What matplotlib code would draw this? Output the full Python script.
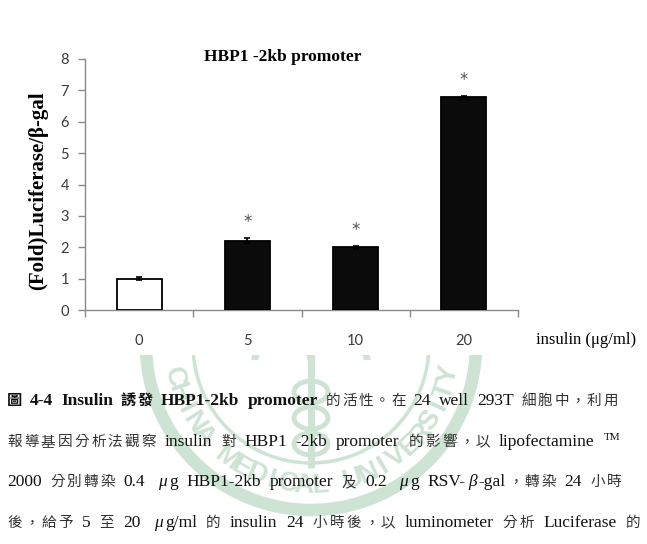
import re
import numpy as np
import matplotlib
matplotlib.use("Agg")
import matplotlib.pyplot as plt
from matplotlib.patches import Arc, Rectangle

# ---------------- data ----------------
categories = ["0", "5", "10", "20"]
fold_values = [1.0, 2.21, 2.0, 6.79]
fold_errors = [0.04, 0.08, 0.04, 0.04]
significant = [False, True, True, True]
yticks = [0, 1, 2, 3, 4, 5, 6, 7, 8]
chart_title = "HBP1 -2kb promoter"
ylabel_text = "(Fold)Luciferase/β-gal"
xunit_text = "insulin (μg/ml)"
watermark_text = "CHINA MEDICAL UNIVERSITY"

caption_lines = [
    [("圖", "cjkb"), (" 4-4 Insulin ", "latb"), ("誘發", "cjkb"), (" HBP1-2kb promoter ", "latb"),
     ("的活性。", "cjk"), ("在", "cjk"), (" 24 well 293T ", "lat"), ("細胞中，利用", "cjk")],
    [("報導基因分析法觀察", "cjk"), (" insulin ", "lat"), ("對", "cjk"), (" HBP1 -2kb promoter ", "lat"),
     ("的影響，以", "cjk"), (" lipofectamine ", "lat"), ("TM", "sup")],
    [("2000 ", "lat"), ("分別轉染", "cjk"), (" 0.4  ", "lat"), ("μ", "greek"), ("g HBP1-2kb promoter ", "lat"),
     ("及", "cjk"), (" 0.2  ", "lat"), ("μ", "greek"), ("g RSV-", "lat"), ("β", "greek"), ("-gal", "lat"),
     ("，轉染", "cjk"), (" 24 ", "lat"), ("小時", "cjk")],
    [("後，給予", "cjk"), (" 5 ", "lat"), ("至", "cjk"), (" 20  ", "lat"), ("μ", "greek"), ("g/ml ", "lat"),
     ("的", "cjk"), (" insulin 24 ", "lat"), ("小時後，以", "cjk"), (" luminometer ", "lat"), ("分析", "cjk"),
     (" Luciferase ", "lat"), ("的", "cjk")],
]

# ---------------- figure ----------------
W, H = 647, 544
fig = plt.figure(figsize=(W / 100, H / 100), dpi=100)
fig.patch.set_facecolor("white")

bg = fig.add_axes([0, 0, 1, 1], zorder=0)
bg.set_xlim(0, W)
bg.set_ylim(H, 0)
bg.axis("off")

wm = "#cde3d3"
cx, cy = 311, 345
bg.add_patch(Arc((cx, cy), 2 * 165, 2 * 165, theta1=0, theta2=360, color=wm, lw=9, zorder=1))
bg.add_patch(Arc((cx, cy), 2 * 118, 2 * 118, theta1=0, theta2=360, color=wm, lw=2.5, zorder=1))
n = len(watermark_text)
a0, a1 = 193, 348
for i, ch in enumerate(watermark_text):
    if ch == " ":
        continue
    th = np.deg2rad(a0 + (a1 - a0) * i / (n - 1))
    px = cx + 141 * np.cos(th)
    py = cy - 141 * np.sin(th)
    bg.text(px, py, ch, rotation=np.rad2deg(th) + 90, rotation_mode="anchor", ha="center", va="center",
            fontsize=20, fontweight="bold", family="Liberation Sans", color=wm, zorder=1)
bg.plot([cx, cx], [352, 468], color=wm, lw=5, solid_capstyle="butt", zorder=1)
bg.add_patch(Arc((cx - 28, 360), 56, 44, theta1=180, theta2=360, color=wm, lw=5, zorder=1))
bg.add_patch(Arc((cx + 28, 360), 56, 44, theta1=180, theta2=360, color=wm, lw=5, zorder=1))
for yy in [392, 418, 444]:
    bg.add_patch(Arc((cx, yy), 34, 22, theta1=0, theta2=360, color=wm, lw=3.5, zorder=1))
bg.add_patch(Rectangle((0, 0), W, 355, facecolor="white", edgecolor="none", zorder=2))

# ---------------- caption ----------------
styles = {
    "lat": dict(family="Liberation Serif", fontsize=12.5, color="#111111"),
    "latb": dict(family="Liberation Serif", fontsize=12.5, fontweight="bold", color="#111111"),
    "cjk": dict(family="Noto Sans CJK TC", fontsize=10.5, color="#333333", fontweight="light"),
    "cjkb": dict(family="Noto Sans CJK TC", fontsize=11, color="#111111", fontweight="bold"),
    "greek": dict(family="Liberation Serif", fontsize=12.5, style="italic", color="#111111"),
    "sup": dict(family="Liberation Serif", fontsize=8, color="#111111"),
}
baselines = [405, 446, 486, 527]
right_edges = [618, 620, 622, 640]
left_edge = 7
renderer = fig.canvas.get_renderer()
space_w = 0.25 * 12.5 * 100 / 72

for line, base, rx in zip(caption_lines, baselines, right_edges):
    units = []
    for text, st in line:
        if st.startswith("cjk"):
            for ch in text:
                units.append((ch, st))
        else:
            for part in re.split(r"( +)", text):
                if part == "":
                    continue
                if part.startswith(" "):
                    units.append((part, None))
                else:
                    units.append((part, st))
    arts = []
    widths = []
    for text, st in units:
        if st is None:
            arts.append(None)
            widths.append(space_w * len(text))
        else:
            t = bg.text(0, base, text, ha="left", va="baseline", zorder=3, **styles[st])
            arts.append(t)
            widths.append(t.get_window_extent(renderer).width)
    ngaps = max(len(units) - 1, 1)
    extra = (rx - left_edge - sum(widths)) / ngaps
    x = left_edge
    for (text, st), t, w in zip(units, arts, widths):
        if t is not None:
            t.set_x(x)
            if st == "sup":
                t.set_y(base - 6)
        x += w + extra

# ---------------- chart ----------------
ax = fig.add_axes([85 / W, 1 - 310 / H, 433 / W, 251 / H], zorder=3)
ax.set_facecolor("white")
xpos = np.arange(len(categories))
colors = ["white"] + ["#0b0b0b"] * (len(categories) - 1)
ax.bar(xpos, fold_values, width=0.415, color=colors, edgecolor="black", linewidth=1.3,
       yerr=fold_errors, capsize=2.5, error_kw=dict(ecolor="black", elinewidth=1.2, capthick=1.2), zorder=3)
for i, (v, e, s) in enumerate(zip(fold_values, fold_errors, significant)):
    if s:
        ax.text(i, v + e + 0.5, "*", ha="center", va="center", fontsize=12, color="#505050",
                family="DejaVu Sans")

ax.set_xlim(-0.5, len(categories) - 0.5)
ax.set_ylim(0, 8)
ax.set_yticks(yticks)
ax.set_yticklabels([str(t) for t in yticks], family="Lato", fontsize=10.5, color="#3a3a3a")
ax.tick_params(axis="y", direction="out", length=5, width=1, color="#8a8a8a", pad=6.5)
ax.set_xticks(np.arange(-0.5, len(categories), 1.0))
ax.set_xticklabels([])
ax.tick_params(axis="x", which="major", direction="out", length=5, width=1, color="#8a8a8a")
ax.set_xticks(xpos, minor=True)
ax.set_xticklabels(categories, minor=True, family="Lato", fontsize=10.5, color="#3a3a3a")
ax.tick_params(axis="x", which="minor", length=0, pad=17)
for sp in ["top", "right"]:
    ax.spines[sp].set_visible(False)
for sp in ["left", "bottom"]:
    ax.spines[sp].set_color("#8a8a8a")
    ax.spines[sp].set_linewidth(1)

fig.text(283 / W, 1 - 57 / H, chart_title, ha="center", va="center", family="Liberation Serif",
         fontweight="bold", fontsize=12.5, zorder=4)
fig.text(38 / W, 1 - 191 / H, ylabel_text, ha="center", va="center", rotation=90, family="Liberation Serif",
         fontweight="bold", fontsize=15, zorder=4)
fig.text(536 / W, 1 - 340 / H, xunit_text, ha="left", va="center", family="Liberation Serif",
         fontsize=12, zorder=4)

fig.savefig("out.png", dpi=100, facecolor="white")
